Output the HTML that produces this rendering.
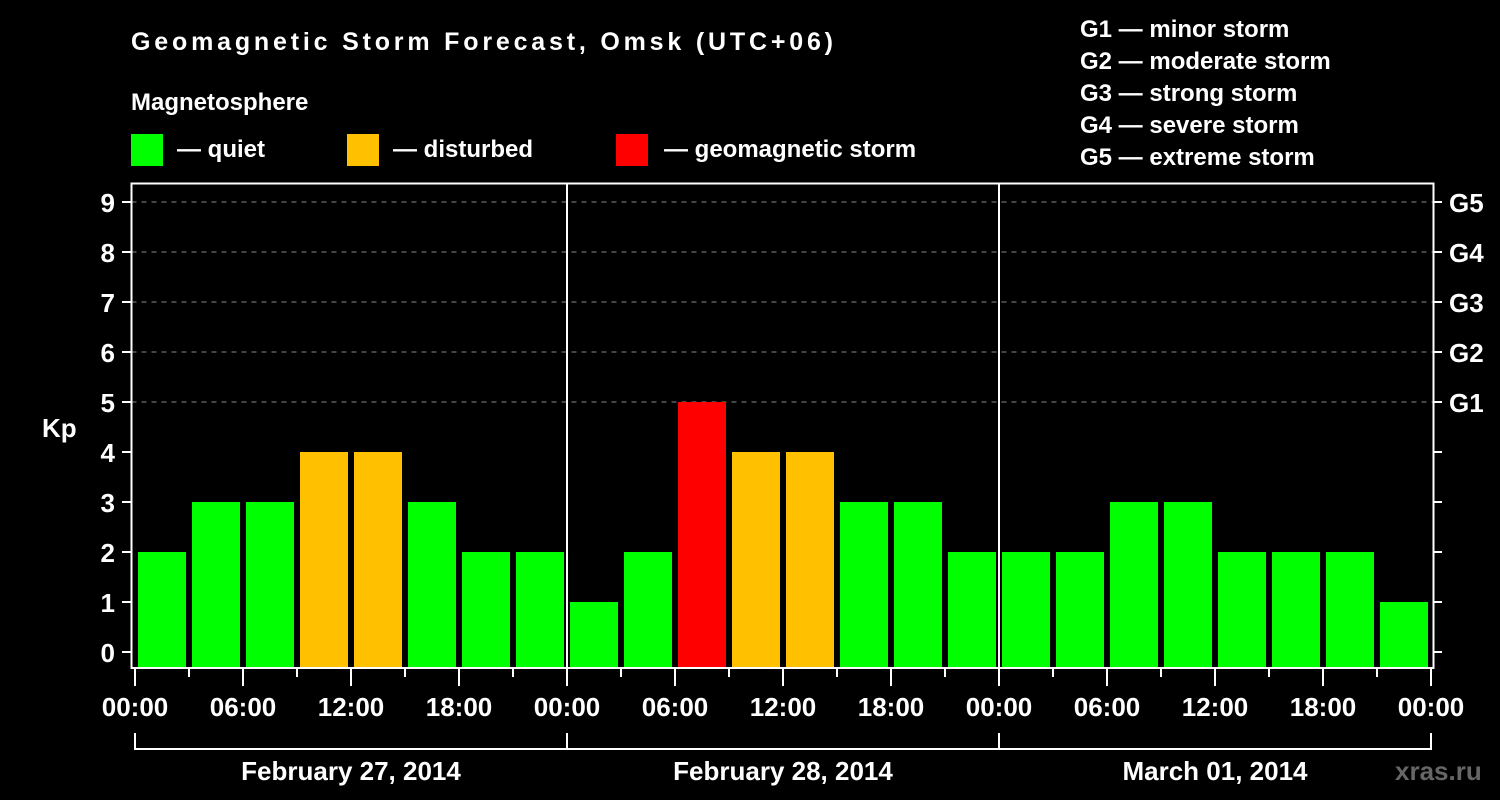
<!DOCTYPE html>
<html><head><meta charset="utf-8"><style>
html,body{margin:0;padding:0;background:#000;}
svg{display:block;font-family:"Liberation Sans",sans-serif;font-weight:bold;}
</style></head><body>
<svg id="chart" width="1500" height="800" viewBox="0 0 1500 800">
<rect width="1500" height="800" fill="#000"/>
<text x="131" y="50" fill="#fff" font-size="25" textLength="702">Geomagnetic Storm Forecast, Omsk (UTC+06)</text>
<text x="131" y="110" fill="#fff" font-size="24">Magnetosphere</text>
<g><rect x="131" y="134" width="32" height="32" fill="#00ff00"/><text x="177" y="157" fill="#fff" font-size="24">— quiet</text></g>
<g><rect x="347" y="134" width="32" height="32" fill="#ffc000"/><text x="393" y="157" fill="#fff" font-size="24">— disturbed</text></g>
<g><rect x="616" y="134" width="32" height="32" fill="#ff0000"/><text x="664" y="157" fill="#fff" font-size="24">— geomagnetic storm</text></g>
<g fill="#fff" font-size="24">
<text x="1080" y="37">G1 — minor storm</text>
<text x="1080" y="69">G2 — moderate storm</text>
<text x="1080" y="101">G3 — strong storm</text>
<text x="1080" y="133">G4 — severe storm</text>
<text x="1080" y="165">G5 — extreme storm</text>
</g>
<text x="42" y="437" fill="#fff" font-size="26">Kp</text>
<text x="1395" y="780" fill="#666" font-size="26">xras.ru</text>
<g id="plot"></g>
</svg>
<script>
const days = ["February 27, 2014", "February 28, 2014", "March 01, 2014"];
const kpValues = [2,3,3,4,4,3,2,2, 1,2,5,4,4,3,3,2, 2,2,3,3,2,2,2,1];
const yTicks = [0,1,2,3,4,5,6,7,8,9];
const gLabels = ["G1","G2","G3","G4","G5"];
const hourLabels = ["00:00","06:00","12:00","18:00"];

const NS = "http://www.w3.org/2000/svg";
const g = document.getElementById("plot");
const L = 131.5, R = 1433.5, T = 183.5, B = 668;
const x0 = 135, slotW = 54;
const y = v => 652 - v * 50;
const x = i => x0 + i * slotW;
function mk(tag, attrs, parent) {
  const e = document.createElementNS(NS, tag);
  for (const k in attrs) e.setAttribute(k, attrs[k]);
  (parent || g).appendChild(e);
  return e;
}
// grid lines
for (let v = 5; v <= 9; v++) {
  const ln = mk("line", {x1: L, x2: R, y1: y(v), y2: y(v), stroke: "#888", "stroke-width": 1, "stroke-dasharray": "5,5"});
  
  
}
// bars
kpValues.forEach((v, i) => {
  const col = v >= 5 ? "#ff0000" : v >= 4 ? "#ffc000" : "#00ff00";
  const r = mk("rect", {x: x(i) + 3, y: y(v), width: 48, height: B - y(v), fill: col});
  
  
});
// frame
const fr = mk("rect", {x: L, y: T, width: R - L, height: B - T, fill: "none", stroke: "#fff", "stroke-width": 2});


// day separators
for (let d = 1; d < days.length; d++) {
  const ln = mk("line", {x1: x(d * 8), x2: x(d * 8), y1: T, y2: B, stroke: "#fff", "stroke-width": 2});
  
  
}
// y ticks
yTicks.forEach(v => {
  mk("line", {x1: 122, x2: L, y1: y(v), y2: y(v), stroke: "#fff", "stroke-width": 2});
  mk("line", {x1: R, x2: 1442, y1: y(v), y2: y(v), stroke: "#fff", "stroke-width": 2});
  const t = mk("text", {x: 115, y: y(v) + 10, fill: "#fff", "font-size": 26, "text-anchor": "end"});
  t.textContent = v;
  
  
});
gLabels.forEach((s, i) => {
  const t = mk("text", {x: 1449, y: y(5 + i) + 10, fill: "#fff", "font-size": 26});
  t.textContent = s;
  
  
});
// x ticks
for (let i = 0; i <= kpValues.length; i++) {
  const major = i % 2 === 0;
  mk("line", {x1: x(i), x2: x(i), y1: B, y2: major ? 686 : 677, stroke: "#fff", "stroke-width": 2});
  if (major) {
    const t = mk("text", {x: x(i), y: 716, fill: "#fff", "font-size": 26, "text-anchor": "middle"});
    t.textContent = hourLabels[(i / 2) % 4];
    
    
  }
}
// date bracket
mk("line", {x1: x(0), x2: x(kpValues.length), y1: 749, y2: 749, stroke: "#fff", "stroke-width": 2});
days.forEach((d, k) => {
  mk("line", {x1: x(k * 8), x2: x(k * 8), y1: 733, y2: 750, stroke: "#fff", "stroke-width": 2});
  const t = mk("text", {x: x(k * 8 + 4), y: 780, fill: "#fff", "font-size": 26, "text-anchor": "middle"});
  t.textContent = d;
  
  
});
mk("line", {x1: x(kpValues.length), x2: x(kpValues.length), y1: 733, y2: 750, stroke: "#fff", "stroke-width": 2});
</script>
</body></html>
